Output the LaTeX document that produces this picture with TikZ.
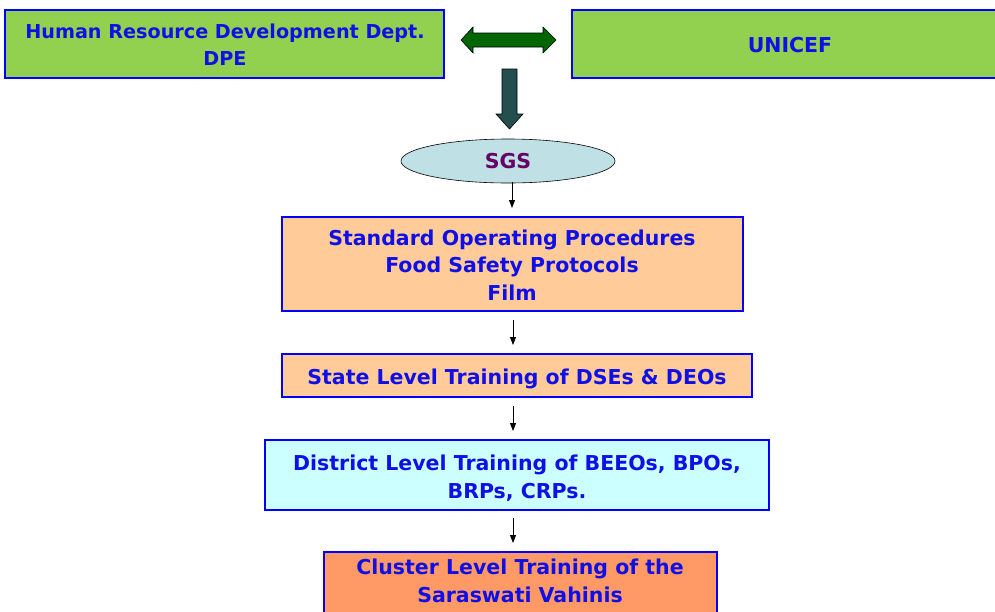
\documentclass[tikz,border=0pt]{standalone}
\usepackage{fontspec}
\setmainfont{DejaVu Sans}
\usetikzlibrary{shapes.geometric,arrows.meta}
\definecolor{boxgreen}{HTML}{92D050}
\definecolor{peach}{HTML}{FFCC99}
\definecolor{paleCyan}{HTML}{CCFFFF}
\definecolor{orangeBox}{HTML}{FF9966}
\definecolor{ellFill}{HTML}{BFE1E5}
\definecolor{dkgreen}{HTML}{006600}
\definecolor{slate}{HTML}{254F4F}
\definecolor{txtblue}{HTML}{1010E6}
\definecolor{purp}{HTML}{660066}
\tikzset{
  box/.style={draw=blue, line width=2pt, inner sep=0pt, anchor=north west},
  lbl/.style={text=txtblue, font=\bfseries\fontsize{20.5}{27.5}\selectfont, align=center, inner sep=0pt},
  flow/.style={-{Triangle[length=8pt,width=6pt]}, line width=0.8pt, black},
}
\begin{document}
\begin{tikzpicture}[x=1pt,y=-1pt]
\clip (0,0) rectangle (995,611);
\fill[white] (0,0) rectangle (995,611);
% top boxes
\draw[box, fill=boxgreen] (5,10) rectangle (444,78);
\draw[box, fill=boxgreen] (572,10) rectangle (1005,78);
\node[lbl, font=\bfseries\fontsize{19.2}{27}\selectfont] (hrd) at (225,45) {Human Resource Development Dept.\\DPE};
\node[lbl] (unicef) at (790,45) {UNICEF};
% double block arrow
\draw[fill=dkgreen, line width=0.6pt] (461,40) -- (473,27) -- (473,33) -- (543,33) -- (543,27) -- (556,40) -- (543,53) -- (543,47) -- (473,47) -- (473,53) -- cycle;
% down block arrow
\draw[fill=slate, line width=0.6pt] (502,69) -- (517,69) -- (517,114) -- (523,114) -- (509.5,129) -- (496,114) -- (502,114) -- cycle;
% SGS ellipse
\node[ellipse, draw=black, line width=0.6pt, fill=ellFill, minimum width=214pt, minimum height=44pt, inner sep=0pt,
      text=purp, font=\bfseries\fontsize{20.5}{22}\selectfont] (sgs) at (508,161) {SGS};
% SOP
\draw[box, fill=peach] (282,217) rectangle (743,311);
\node[lbl] (sop) at (512,265) {Standard Operating Procedures\\Food Safety Protocols\\Film};
% state
\draw[box, fill=peach] (282,354) rectangle (752,397);
\node[lbl] (state) at (517,379) {State Level Training of DSEs \& DEOs};
% district
\draw[box, fill=paleCyan] (265,440) rectangle (769,510);
\node[lbl] (dist) at (517,478) {District Level Training of BEEOs, BPOs,\\BRPs, CRPs.};
% cluster
\draw[box, fill=orangeBox] (324,552) rectangle (717,620);
\node[lbl] (clus) at (520,581) {Cluster Level Training of the\\Saraswati Vahinis};
% small arrows
\coordinate (a1) at (512,182); \coordinate (b1) at (512,208);
\coordinate (a2) at (513,320); \coordinate (b2) at (513,345);
\coordinate (a3) at (513,406); \coordinate (b3) at (513,431);
\coordinate (a4) at (513,518); \coordinate (b4) at (513,543);
\draw[flow] (a1) -- (b1);
\draw[flow] (a2) -- (b2);
\draw[flow] (a3) -- (b3);
\draw[flow] (a4) -- (b4);
\end{tikzpicture}
\end{document}
